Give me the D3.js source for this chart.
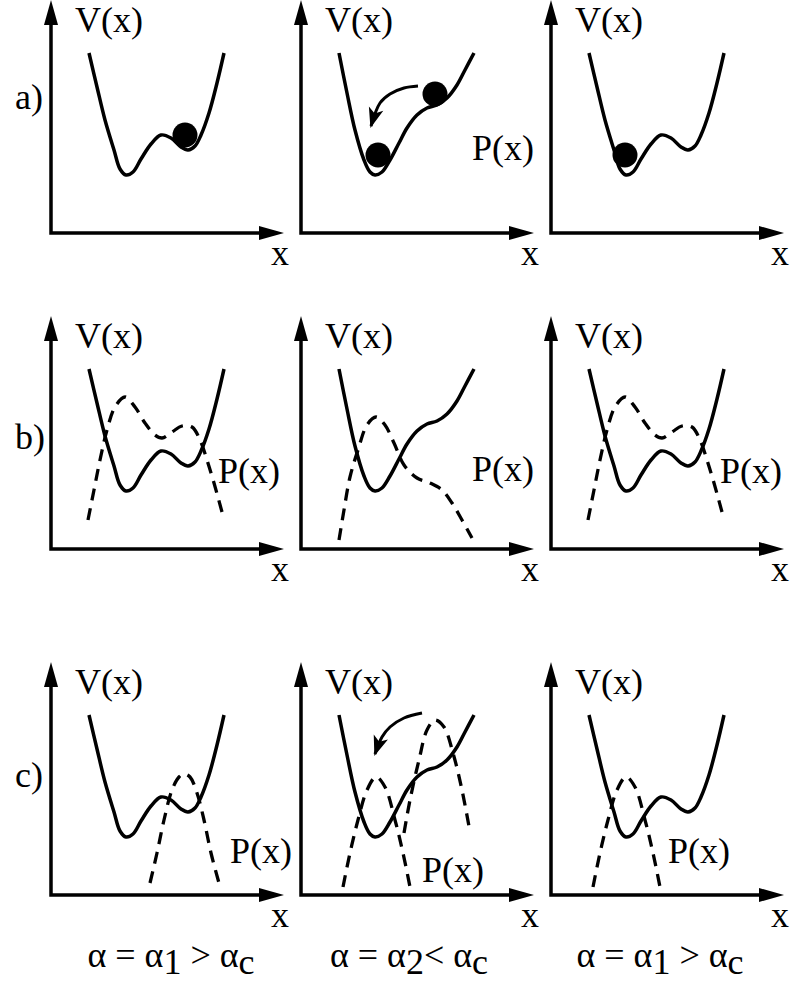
<!DOCTYPE html>
<html>
<head>
<meta charset="utf-8">
<script src="https://cdn.jsdelivr.net/npm/d3@7"></script>
<style>
  body { margin: 0; background: #fff; }
  text { font-family: "Liberation Serif", "Times New Roman", serif; fill: #000; }
</style>
</head>
<body>
<svg id="fig"></svg>
<script>
// Potential with two wells, the left one deeper
const vSymmetric = [[38,180],[46,146],[54,113],[63,83],[69,64],[75,58],[82,61],[90,74],[100,89],[110,98],
                    [120,95],[130,86],[137,83],[144,87],[150,98],[158,120],[166,150],[173,180]];
// Tilted potential, right well gone
const vTilted = [[38,180],[46,140],[54,103],[63,73],[69,61],[74,58],[81,61],[89,73],[98,90],[106,105],
                 [116,118],[126,125],[136,128],[146,135],[156,148],[164,163],[173,180]];

// Distributions P(x) (dashed)
const pBimodal = [[37,29],[43,59],[49,89],[56,119],[64,142],[74,152],[84,142],[94,126],[104,114],[111,111],
                  [121,117],[131,123],[141,122],[149,109],[156,89],[163,66],[171,37]];
const pSkewed = [[38,9],[43,39],[49,72],[57,99],[66,124],[75,132],[84,124],[93,106],[103,84],[116,71],
                 [129,66],[141,59],[151,46],[161,29],[171,11]];
const pNarrowRight = [[99,12],[106,42],[113,75],[121,105],[128,118],[133,121],[139,118],[146,102],[153,75],[160,42],[168,12]];
const pNarrowLeft = [[42,8],[49,42],[57,75],[66,105],[75,118],[84,108],[94,75],[102,42],[109,8]];
const pNarrowShifted = [[103,62],[109,95],[118,135],[126,165],[134,175],[143,168],[152,142],[161,105],[169,63]];

// Balls and curved arrows
const ballsA1 = [[134,98]];
const ballsA2 = [[134,139],[77,78]];
const ballsA3 = [[74,78]];
const arrowA2 = [[117,147],[103,145],[89,139],[79,130],[70,107]];
const arrowC2 = [[121,182],[103,177],[89,168],[81,158],[74,141]];

// Texts
const rowLabels = ["a)", "b)", "c)"];
const alphaLabels = [["α = α","1"," > α","c"], ["α = α","2","< α","c"], ["α = α","1"," > α","c"]];

const W = 796, H = 993;
const AX = 233;                 // axis length in panel units
const colX = [51, 301, 551];
const rowY = [233, 549, 895];
const rowLabelY = [109, 449, 787];
const alphaX = [171, 409, 660];

const panels = [
  {r:0, c:0, v:vSymmetric, p:[], balls:ballsA1},
  {r:0, c:1, v:vTilted, p:[], balls:ballsA2, arrow:arrowA2, pl:[171,73]},
  {r:0, c:2, v:vSymmetric, p:[], balls:ballsA3},
  {r:1, c:0, v:vSymmetric, p:[pBimodal], pl:[167,66]},
  {r:1, c:1, v:vTilted, p:[pSkewed], pl:[171,68]},
  {r:1, c:2, v:vSymmetric, p:[pBimodal], pl:[169,66]},
  {r:2, c:0, v:vSymmetric, p:[pNarrowRight], pl:[179,32]},
  {r:2, c:1, v:vTilted, p:[pNarrowLeft, pNarrowShifted], arrow:arrowC2, pl:[121,13]},
  {r:2, c:2, v:vSymmetric, p:[pNarrowLeft], pl:[117,32]}
];

const svg = d3.select("#fig").attr("width", W).attr("height", H);

// arrowhead for the curved arrows
svg.append("defs").append("marker")
  .attr("id", "head")
  .attr("viewBox", "-20 -8 22 16")
  .attr("refX", 0).attr("refY", 0)
  .attr("markerUnits", "userSpaceOnUse")
  .attr("markerWidth", 22).attr("markerHeight", 16)
  .attr("orient", "auto")
  .append("path")
  .attr("d", "M2,0 L-18,-7.5 L-13,0 L-18,7.5 Z")
  .attr("fill", "#000");

panels.forEach(pn => {
  const ox = colX[pn.c], oy = rowY[pn.r];
  const x = d3.scaleLinear().domain([0, AX]).range([ox, ox + AX]);
  const y = d3.scaleLinear().domain([0, AX]).range([oy, oy - AX]);
  const g = svg.append("g");
  const line = d3.line().x(d => x(d[0])).y(d => y(d[1])).curve(d3.curveCatmullRom.alpha(0.5));

  // axes with filled arrowheads
  g.append("path")
    .attr("d", `M${x(0)},${y(AX - 22)} L${x(0)},${y(0)} L${x(AX - 22)},${y(0)}`)
    .attr("fill", "none").attr("stroke", "#000").attr("stroke-width", 3.5)
    .attr("stroke-linejoin", "miter");
  g.append("path")
    .attr("d", `M${x(0)},${y(AX)} L${x(0) - 7},${y(AX - 25)} L${x(0) + 7},${y(AX - 25)} Z`)
    .attr("fill", "#000");
  g.append("path")
    .attr("d", `M${x(AX)},${y(0)} L${x(AX - 25)},${y(0) - 7} L${x(AX - 25)},${y(0) + 7} Z`)
    .attr("fill", "#000");

  // distributions
  pn.p.forEach(curve => {
    g.append("path").attr("d", line(curve))
      .attr("fill", "none").attr("stroke", "#000").attr("stroke-width", 3.3)
      .attr("stroke-dasharray", "12,8");
  });

  // potential
  g.append("path").attr("d", line(pn.v))
    .attr("fill", "none").attr("stroke", "#000").attr("stroke-width", 3.5);

  (pn.balls || []).forEach(b => {
    g.append("circle").attr("cx", x(b[0])).attr("cy", y(b[1])).attr("r", 12.5).attr("fill", "#000");
  });

  if (pn.arrow) {
    g.append("path").attr("d", line(pn.arrow))
      .attr("fill", "none").attr("stroke", "#000").attr("stroke-width", 3)
      .attr("marker-end", "url(#head)");
  }

  // labels
  g.append("text").attr("x", x(24)).attr("y", y(201)).attr("font-size", 36).text("V(x)");
  g.append("text").attr("x", x(229)).attr("y", y(-32)).attr("font-size", 36)
    .attr("text-anchor", "middle").text("x");
  if (pn.pl) {
    g.append("text").attr("x", x(pn.pl[0])).attr("y", y(pn.pl[1])).attr("font-size", 36).text("P(x)");
  }
});

rowLabels.forEach((t, i) => {
  svg.append("text").attr("x", 15).attr("y", rowLabelY[i]).attr("font-size", 36).text(t);
});

alphaLabels.forEach((parts, i) => {
  const t = svg.append("text").attr("x", alphaX[i]).attr("y", 967)
    .attr("font-size", 36).attr("text-anchor", "middle");
  parts.forEach((s, k) => {
    t.append("tspan").attr("dy", k === 0 ? 0 : (k % 2 === 1 ? 7 : -7)).text(s);
  });
});
</script>
</body>
</html>
